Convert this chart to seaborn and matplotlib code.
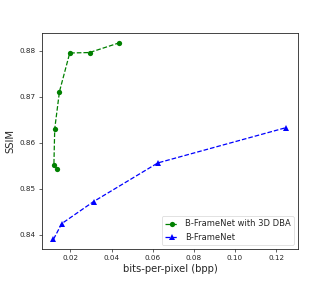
import pandas as pd
import numpy as np
import matplotlib
matplotlib.use('Agg')
import matplotlib.pyplot as plt
import seaborn as sns

# values
dba_bpp = [0.0136, 0.0120, 0.0124, 0.0147, 0.0197, 0.0293, 0.0437]
dba_ssim = [0.8543, 0.8551, 0.8630, 0.8711, 0.8795, 0.8796, 0.8817]
base_bpp = [0.0118, 0.0158, 0.0313, 0.0625, 0.125]
base_ssim = [0.8390, 0.8424, 0.8472, 0.8556, 0.8633]

df_dba = pd.DataFrame({'bpp': dba_bpp, 'ssim': dba_ssim})
df_base = pd.DataFrame({'bpp': base_bpp, 'ssim': base_ssim})

sns.set_style('ticks')
plt.rcParams['font.family'] = ['DejaVu Sans']

fig = plt.figure(figsize=(3.32, 2.85), dpi=100)
ax = fig.add_axes([0.126, 0.126, 0.772, 0.758])

sns.lineplot(data=df_dba, x='bpp', y='ssim', sort=False, ax=ax, color='green',
             linestyle='--', marker='o', markersize=3.8, markeredgewidth=0,
             linewidth=0.9, label='B-FrameNet with 3D DBA')
sns.lineplot(data=df_base, x='bpp', y='ssim', sort=False, ax=ax, color='blue',
             linestyle='--', marker='^', markersize=4, markeredgewidth=0,
             linewidth=0.9, label='B-FrameNet')

ax.set_xticks([0.02, 0.04, 0.06, 0.08, 0.10, 0.12])
ax.set_xticklabels(['0.02', '0.04', '0.06', '0.08', '0.10', '0.12'])
ax.set_yticks([0.84, 0.85, 0.86, 0.87, 0.88])
ax.tick_params(labelsize=5.2, width=0.5, length=2.5, pad=2)
for s in ax.spines.values():
    s.set_linewidth(0.6)
ax.set_xlabel('bits-per-pixel (bpp)', fontsize=7.2, labelpad=2)
ax.set_ylabel('SSIM', fontsize=7.2, labelpad=3)
leg = ax.legend(loc='lower right', fontsize=6, frameon=True, handlelength=1.6)
leg.get_frame().set_linewidth(0.5)

fig.savefig('out.png', dpi=100)
